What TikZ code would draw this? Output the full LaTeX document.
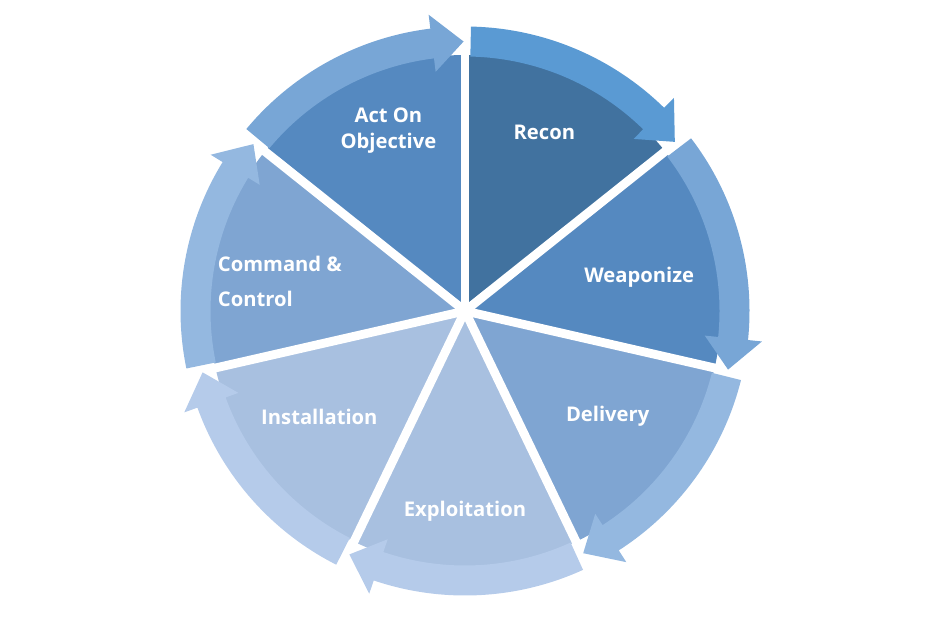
\documentclass[tikz,border=0pt]{standalone}
\usepackage{fontspec}
\setmainfont{Open Sans}
\usetikzlibrary{positioning,calc}
\definecolor{pieA}{HTML}{41729F}
\definecolor{pieB}{HTML}{5589C0}
\definecolor{pieC}{HTML}{7FA5D2}
\definecolor{pieD}{HTML}{A8C0E0}
\definecolor{ringA}{HTML}{5A9AD3}
\definecolor{ringB}{HTML}{78A6D6}
\definecolor{ringC}{HTML}{94B8E0}
\definecolor{ringD}{HTML}{B5CBEA}
\tikzset{
  lbl/.style={text=white,font=\bfseries\fontsize{11.5}{15}\selectfont,align=center},
  gap/.style={white,line width=5pt}
}
\begin{document}
\begin{tikzpicture}
\useasboundingbox (0,0) rectangle (18.6,12.4);
\coordinate (c) at (9.3,6.18);

% wedges and arrows, clockwise from the top
\foreach \s/\pc/\rc in {90/pieA/ringA,38.571/pieB/ringB,-12.857/pieC/ringC,-64.286/pieD/ringD,
  -115.714/pieD/ringD,-167.143/pieC/ringC,-218.571/pieB/ringB} {
  \pgfmathsetmacro{\e}{\s-51.4286}
  \fill[\pc] (c) -- ++(\s:5.12) arc[start angle=\s,end angle=\e,radius=5.12] -- cycle;
  \pgfmathsetmacro{\bs}{\s-1.2}
  \pgfmathsetmacro{\hb}{\e+7}
  \pgfmathsetmacro{\tp}{\e+0.3}
  \fill[\rc] (c) ++(\bs:5.09) arc[start angle=\bs,end angle=\hb,radius=5.09]
    -- ($(c)+(\hb:4.82)$) -- ($(c)+(\tp:5.39)$) -- ($(c)+(\hb:5.97)$)
    -- ($(c)+(\hb:5.69)$) arc[start angle=\hb,end angle=\bs,radius=5.69] -- cycle;
}

% gaps between wedges
\foreach \s in {90,38.571,-12.857,-64.286,-115.714,-167.143,-218.571} {
  \draw[gap] (c) -- ++(\s:5.14);
}

\node[lbl] (recon) at ($(c)+(66:3.9)$) {Recon};
\node[lbl] (weap) at ($(c)+(11:3.55)$) {Weaponize};
\node[lbl] (deliv) at ($(c)+(-36.5:3.55)$) {Delivery};
\node[lbl] (expl) at ($(c)+(-90:4.0)$) {Exploitation};
\node[lbl] (inst) at ($(c)+(-144:3.6)$) {Installation};
\node[lbl,align=left] (cc) at ($(c)+(171:3.75)$) {Command \&\\[5pt]Control};
\node[lbl] (act) at ($(c)+(113:3.92)$) {Act On\\Objective};
\end{tikzpicture}
\end{document}
